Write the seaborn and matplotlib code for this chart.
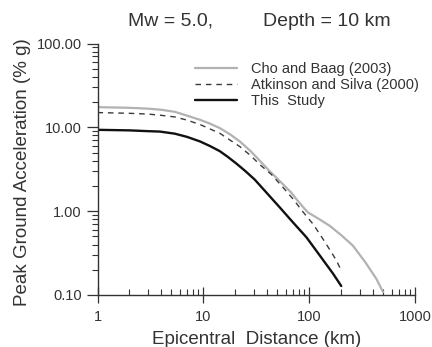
import matplotlib
matplotlib.use("Agg")
import matplotlib.pyplot as plt
import matplotlib.ticker as mticker
import seaborn as sns
import numpy as np

# Data
cho_x = [1, 2, 3, 4, 5.4, 7, 9.3, 11.5, 14.3, 18, 22.1, 28, 34.1, 42.3, 50.8, 67.9, 75.7, 86, 97.4,
         125, 156, 200, 259, 340, 430, 500]
cho_y = [17.4, 17.1, 16.7, 16.2, 15.3, 13.8, 12.3, 11.1, 9.8, 8.2, 6.8, 5.2, 4.0, 3.0, 2.4, 1.66, 1.39, 1.15, 0.966,
         0.80, 0.67, 0.52, 0.388, 0.245, 0.157, 0.108]

as_x = [1, 2, 3, 4, 5.4, 7, 9.3, 11.5, 14.3, 18, 22.1, 28, 34.1, 44, 58.7, 70.3, 87.4, 109, 135, 162, 181, 197]
as_y = [15.0, 14.7, 14.4, 13.9, 13.3, 12.2, 10.8, 9.6, 8.5, 7.0, 5.9, 4.6, 3.6, 2.74, 1.82, 1.40, 0.98, 0.70,
        0.466, 0.324, 0.258, 0.206]

ts_x = [1, 2, 3, 3.89, 5.38, 7, 9.27, 11.5, 14.3, 17, 20.5, 25, 30.6, 40.8, 52.7, 70.3, 94.1, 126, 168, 201]
ts_y = [9.34, 9.2, 9.0, 8.9, 8.4, 7.7, 6.8, 6.0, 5.2, 4.45, 3.7, 3.0, 2.38, 1.59, 1.11, 0.735, 0.489, 0.296,
        0.180, 0.128]

labels = ["Cho and Baag (2003)", "Atkinson and Silva (2000)", "This  Study"]
y_ticks = [0.1, 1, 10, 100]
y_ticklabels = ["0.10", "1.00", "10.00", "100.00"]
x_ticks = [1, 10, 100, 1000]
x_ticklabels = ["1", "10", "100", "1000"]

sns.set_style("white")
plt.rcParams['font.family'] = ['Liberation Sans', 'DejaVu Sans']
txt = "#333333"

fig = plt.figure(figsize=(4.32, 3.47), dpi=100)
ax = fig.add_axes([97.5 / 432, 1 - 295 / 347, 317.5 / 432, 251.5 / 347])

sns.lineplot(x=cho_x, y=cho_y, ax=ax, color="#b2b2b2", lw=1.6, label=labels[0])
sns.lineplot(x=as_x, y=as_y, ax=ax, color="#3a3a3a", lw=1.0, label=labels[1])
sns.lineplot(x=ts_x, y=ts_y, ax=ax, color="#111111", lw=1.7, label=labels[2])
ax.lines[1].set_dashes([4, 3.5])
for ln in ax.lines:
    ln.set_solid_joinstyle("round")
    ln.set_dash_joinstyle("round")

ax.set_xscale("log")
ax.set_yscale("log")
ax.set_xlim(1, 1000)
ax.set_ylim(0.1, 100)

ax.set_xticks(x_ticks)
ax.set_xticklabels(x_ticklabels)
ax.set_yticks(y_ticks)
ax.set_yticklabels(y_ticklabels)
ax.xaxis.set_minor_locator(mticker.LogLocator(base=10, subs=np.arange(2, 10)))
ax.yaxis.set_minor_locator(mticker.LogLocator(base=10, subs=np.arange(2, 10)))
ax.xaxis.set_minor_formatter(mticker.NullFormatter())
ax.yaxis.set_minor_formatter(mticker.NullFormatter())

ax.tick_params(axis="x", which="major", direction="inout", length=11, width=0.9, color="#333333", labelsize=10.5, pad=5.5)
ax.tick_params(axis="x", which="minor", direction="in", length=4.5, width=0.8, color="#333333")
ax.tick_params(axis="y", which="major", direction="out", length=8, width=0.9, color="#333333", labelsize=10.5, pad=3.5)
ax.tick_params(axis="y", which="minor", direction="out", length=4.5, width=0.8, color="#333333")
ax.tick_params(labelcolor=txt)
ax.xaxis.set_tick_params(bottom=True, which="both")
ax.yaxis.set_tick_params(left=True, which="both")

for s in ["top", "right"]:
    ax.spines[s].set_visible(False)
for s in ["left", "bottom"]:
    ax.spines[s].set_color("#333333")
    ax.spines[s].set_linewidth(1.0)

ax.set_xlabel("Epicentral  Distance (km)", fontsize=13.5, color=txt, va="top")
ax.xaxis.set_label_coords(0.5, (295 - 331) / 251.5)
ax.set_ylabel("Peak Ground Acceleration (% g)", fontsize=13.5, color=txt, va="center")
ax.yaxis.set_label_coords((23 - 97.5) / 317.5, 0.49)

fig.text(128 / 432, 1 - 21 / 347, "Mw = 5.0,", ha="left", va="center", fontsize=14, color=txt)
fig.text(263 / 432, 1 - 21 / 347, "Depth = 10 km", ha="left", va="center", fontsize=14, color=txt)

leg = ax.legend(loc="upper left", bbox_to_anchor=(195 / 432, 1 - 62 / 347),
                bbox_transform=fig.transFigure, frameon=False, fontsize=10.5,
                handlelength=2.9, handletextpad=0.95, labelspacing=0.15,
                borderpad=0, borderaxespad=0)
for t in leg.get_texts():
    t.set_color(txt)

ax.grid(False)
fig.savefig("out.png", dpi=100)
